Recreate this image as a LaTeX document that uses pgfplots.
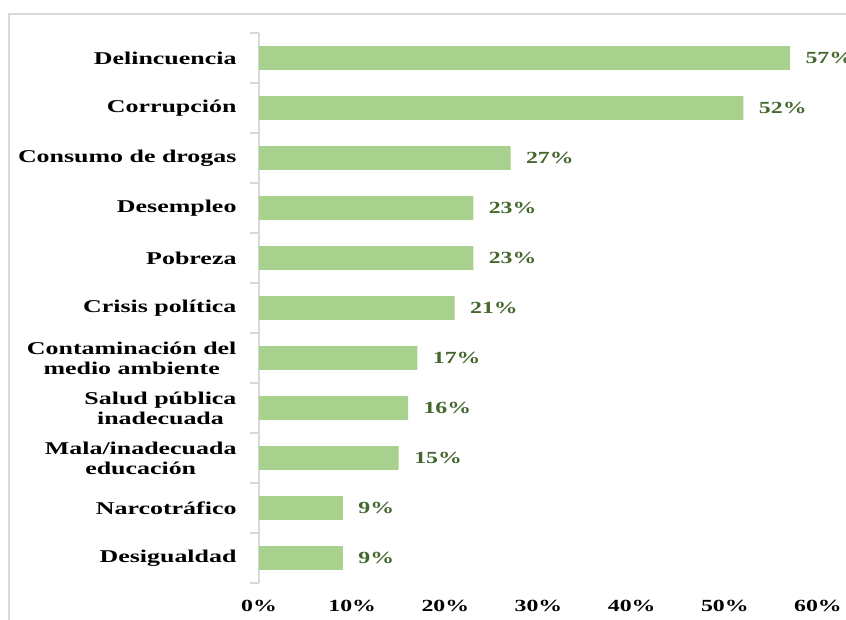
\documentclass[border=0pt]{standalone}
\usepackage{fontspec}
\setmainfont{Liberation Serif}[FakeStretch=1.44]
\newfontfamily\valfont{Liberation Serif}[FakeStretch=1.4]
\usepackage{pgfplots}
\pgfplotsset{compat=1.18}
\definecolor{barg}{HTML}{A9D18E}
\definecolor{lblg}{HTML}{44672F}
\definecolor{axg}{HTML}{D9D9D9}
\begin{document}
\begin{tikzpicture}
\begin{axis}[
  at={(0pt,0pt)}, anchor=south west,
  scale only axis, width=559pt, height=550pt,
  xmin=0, xmax=60, ymin=-0.5, ymax=10.5,
  xbar, bar width=23.6pt,
  clip=false,
  /pgf/number format/assume math mode=true,
  axis lines*=left, axis line style={-},
  x axis line style={draw=none},
  y axis line style={draw=axg, line width=1.5pt},
  xtick={0,10,20,30,40,50,60},
  xticklabel={\pgfmathprintnumber{\tick}\%},
  xtick style={draw=none},
  xticklabel style={font=\valfont\bfseries\fontsize{17}{20}\selectfont, yshift=-5pt},
  ytick={-0.5,0.5,1.5,2.5,3.5,4.5,5.5,6.5,7.5,8.5,9.5,10.5},
  y tick label as interval,
  yticklabels={Desigualdad, Narcotráfico, {Mala/inadecuada\\educación}, {Salud pública\\inadecuada}, {Contaminación del\\medio ambiente}, Crisis política, Pobreza, Desempleo, Consumo de drogas, Corrupción, Delincuencia},
  tick align=outside,
  major tick length=9pt,
  ytick style={draw=axg, line width=1.2pt},
  yticklabel style={font=\bfseries\fontsize{18}{20}\selectfont, align=center, xshift=-10pt},
  nodes near coords={\pgfmathprintnumber{\pgfplotspointmeta}\%},
  point meta=x,
  nodes near coords style={font=\valfont\bfseries\fontsize{17}{20}\selectfont, text=lblg, anchor=west, xshift=12pt},
]
\addplot[fill=barg, draw=none] coordinates {(9,0) (9,1) (15,2) (16,3) (17,4) (21,5) (23,6) (23,7) (27,8) (52,9) (57,10)};
\end{axis}
\draw[axg, line width=1.5pt] (-250pt,-60pt) rectangle (700pt,569pt);
\pgfresetboundingbox
\useasboundingbox (-259pt,-37pt) rectangle (587pt,583pt);
\end{tikzpicture}
\end{document}
